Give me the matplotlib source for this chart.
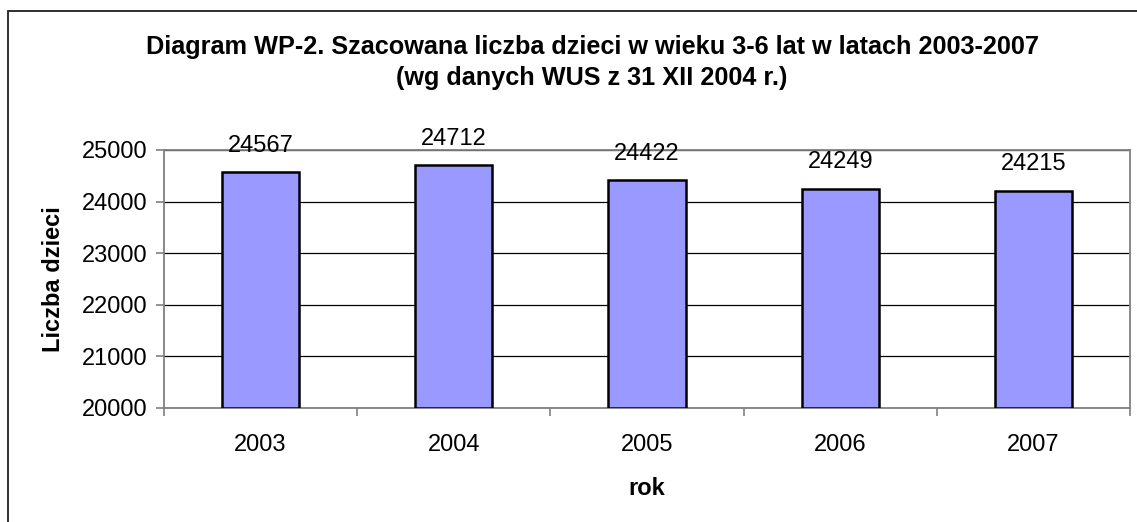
import matplotlib
matplotlib.use("Agg")
import matplotlib.pyplot as plt
from matplotlib.patches import Rectangle

years = ["2003", "2004", "2005", "2006", "2007"]
values = [24567, 24712, 24422, 24249, 24215]
yticks = [20000, 21000, 22000, 23000, 24000, 25000]

plt.rcParams['font.family'] = ['Liberation Sans', 'DejaVu Sans']

W, H = 1137, 522
fig = plt.figure(figsize=(W / 100, H / 100), dpi=100)
fig.patch.set_facecolor("white")

# outer border
fig.patches.append(Rectangle((8 / W, -0.05), 1.2, 1 - 11 / H + 0.05, transform=fig.transFigure,
                             fill=False, edgecolor="#202020", linewidth=1.3, zorder=0))

left, right, top, bottom = 164 / W, 1130 / W, 150 / H, 408 / H
ax = fig.add_axes([left, 1 - bottom, right - left, bottom - top])

FS = 17

x = list(range(len(years)))
ax.bar(x, [v - 20000 for v in values], bottom=20000, width=0.4, color="#9999FF",
       edgecolor="black", linewidth=1.8, zorder=3)
for xi, v in zip(x, values):
    ax.annotate(str(v), (xi, v), xytext=(0, 11), textcoords="offset points",
                ha="center", va="bottom", fontsize=FS, zorder=4)

ax.set_xlim(-0.5, len(years) - 0.5)
ax.set_ylim(20000, 25000)
ax.set_yticks(yticks)
ax.set_yticklabels([str(t) for t in yticks], fontsize=FS)
ax.yaxis.grid(True, color="black", linewidth=0.9, zorder=1)
ax.set_axisbelow(True)

ax.set_xticks(x)
ax.set_xticklabels(years, fontsize=FS)
ax.tick_params(axis="x", which="major", length=0, pad=19)
ax.set_xticks([i + 0.5 for i in range(-1, len(years))], minor=True)
ax.tick_params(axis="x", which="minor", length=6, color="#808080", width=1.2)
ax.tick_params(axis="y", length=6, color="#808080", width=1.2, pad=6)

for s in ax.spines.values():
    s.set_color("#808080")
    s.set_linewidth(1.3)

ax.set_ylabel("Liczba dzieci", fontsize=FS, fontweight="bold", labelpad=12)
ax.set_xlabel("rok", fontsize=FS, fontweight="bold", labelpad=15)

fig.text(592 / W, 1 - 47 / H, "Diagram WP-2. Szacowana liczba dzieci w wieku 3-6 lat w latach 2003-2007",
         ha="center", va="center", fontsize=18.2, fontweight="bold")
fig.text(592 / W, 1 - 78 / H, "(wg danych WUS z 31 XII 2004 r.)",
         ha="center", va="center", fontsize=18.2, fontweight="bold")

fig.savefig("out.png", dpi=100)
